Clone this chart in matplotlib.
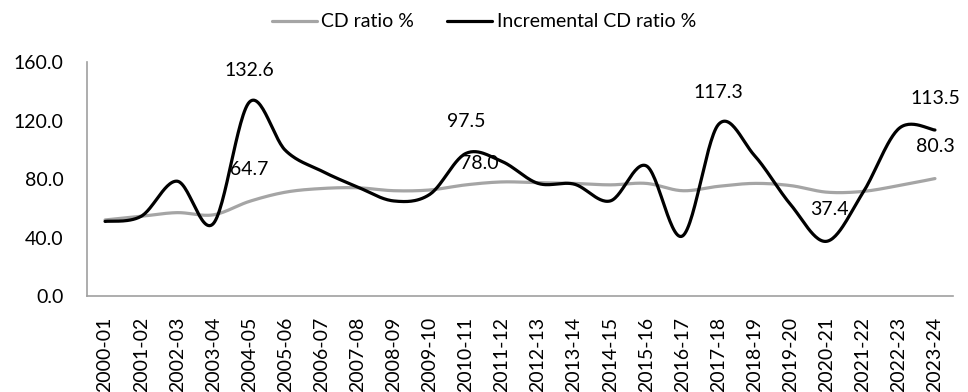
import matplotlib
matplotlib.use("Agg")
import matplotlib.pyplot as plt
import numpy as np

plt.rcParams['font.family'] = ['Lato', 'DejaVu Sans']

years = ['2000-01', '2001-02', '2002-03', '2003-04', '2004-05', '2005-06',
         '2006-07', '2007-08', '2008-09', '2009-10', '2010-11', '2011-12',
         '2012-13', '2013-14', '2014-15', '2015-16', '2016-17', '2017-18',
         '2018-19', '2019-20', '2020-21', '2021-22', '2022-23', '2023-24']

cd_ratio = [52.0, 54.5, 57.0, 55.5, 64.7, 71.0, 73.5, 74.0, 72.0, 72.5,
            76.0, 78.0, 77.5, 77.0, 76.0, 77.0, 72.0, 75.0, 77.0, 75.5,
            71.0, 71.5, 75.5, 80.3]

incr_cd_ratio = [51.0, 54.5, 78.5, 49.5, 132.6, 99.5, 85.5, 74.5, 65.0, 69.5,
                 97.5, 92.0, 77.0, 76.5, 65.0, 89.0, 41.0, 117.3, 96.0, 62.5,
                 37.4, 70.5, 114.5, 113.5]

# label index -> offset in points (dx, dy)
cd_labels = {4: (0, 23), 11: (-16, 13), 23: (0, 23)}
incr_labels = {4: (0, 23), 10: (0, 23), 17: (0, 23), 20: (2, 23), 23: (0, 23)}


def smooth(x, y, n=30):
    # excel style smoothed line (bezier through each point)
    x = np.asarray(x, float)
    y = np.asarray(y, float)
    px = np.concatenate([[x[0]], x, [x[-1]]])
    py = np.concatenate([[y[0]], y, [y[-1]]])
    xs, ys = [], []
    t = np.linspace(0, 1, n)
    for i in range(1, len(px) - 2):
        p0 = np.array([px[i], py[i]])
        p3 = np.array([px[i + 1], py[i + 1]])
        c1 = p0 + (p3 - np.array([px[i - 1], py[i - 1]])) / 6
        c2 = p3 - (np.array([px[i + 2], py[i + 2]]) - p0) / 6
        pts = ((1 - t)[:, None] ** 3 * p0 + 3 * ((1 - t) ** 2 * t)[:, None] * c1
               + 3 * ((1 - t) * t ** 2)[:, None] * c2 + (t ** 3)[:, None] * p3)
        xs.extend(pts[:, 0])
        ys.extend(pts[:, 1])
    return np.array(xs), np.array(ys)


fig = plt.figure(figsize=(9.68, 3.92), dpi=100)
ax = fig.add_axes([0.0899, 0.2449, 0.8946, 0.5969])

xpos = np.arange(len(years))
sx, sy = smooth(xpos, cd_ratio)
ax.plot(sx, sy, color='#A5A5A5', lw=2.3, label='CD ratio %', solid_capstyle='round')
sx, sy = smooth(xpos, incr_cd_ratio)
ax.plot(sx, sy, color='black', lw=2.3, label='Incremental CD ratio %', solid_capstyle='round')

for i, off in cd_labels.items():
    ax.annotate(f'{cd_ratio[i]:.1f}', (xpos[i], cd_ratio[i]), xytext=off,
                textcoords='offset points', ha='center', va='center', fontsize=14)
for i, off in incr_labels.items():
    ax.annotate(f'{incr_cd_ratio[i]:.1f}', (xpos[i], incr_cd_ratio[i]), xytext=off,
                textcoords='offset points', ha='center', va='center', fontsize=14)

ax.set_xlim(-0.5, len(years) - 0.5)
ax.set_ylim(0, 160)
ax.set_yticks([0, 40, 80, 120, 160])
ax.set_yticklabels([f'{v:.1f}' for v in [0, 40, 80, 120, 160]], fontsize=14)
ax.set_xticks(xpos)
ax.set_xticklabels(years, rotation=90, fontsize=14)
ax.tick_params(length=0)
ax.tick_params(axis='x', pad=15)
ax.tick_params(axis='y', pad=17)

for s in ['top', 'right']:
    ax.spines[s].set_visible(False)
for s in ['left', 'bottom']:
    ax.spines[s].set_color('#A0A0A0')
    ax.spines[s].set_linewidth(1.2)

fig.legend(loc='center', bbox_to_anchor=(0.5, 0.944), ncol=2, frameon=False,
           fontsize=14, handlelength=2.3, handletextpad=0.25, columnspacing=1.7)

plt.savefig('out.png', dpi=100)
